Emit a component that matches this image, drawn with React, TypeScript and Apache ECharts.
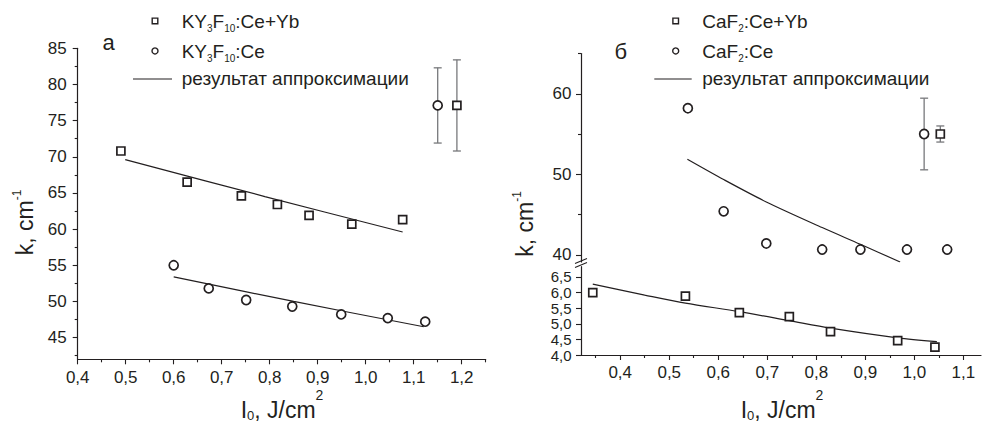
import React, { useEffect, useRef } from 'react';
import * as echarts from 'echarts';

const INK = '#231f20';
const ERR = '#77787b';
const FONT = '"Liberation Sans", Arial, Helvetica, sans-serif';

// ---------- Panel "а": KY3F10 ----------
const kyYbX = [0.490, 0.628, 0.741, 0.816, 0.882, 0.971, 1.077, 1.190];
const kyYbY = [70.8, 66.5, 64.6, 63.4, 61.9, 60.7, 61.3, 77.1];
const kyCeX = [0.600, 0.673, 0.751, 0.847, 0.949, 1.046, 1.124, 1.150];
const kyCeY = [55.0, 51.8, 50.2, 49.3, 48.2, 47.7, 47.2, 77.1];
const kyErrX = [1.150, 1.190];
const kyErrY = [77.1, 77.1];
const kyErrD = [5.2, 6.3];
const kyYbFitX = [0.499, 0.790, 1.077];
const kyYbFitY = [69.6, 64.5, 59.6];
const kyCeFitX = [0.600, 0.850, 1.121];
const kyCeFitY = [53.4, 50.0, 46.5];

// ---------- Panel "б": CaF2 ----------
const cafCeX = [0.538, 0.611, 0.698, 0.812, 0.890, 0.985, 1.067, 1.020];
const cafCeY = [58.2, 45.4, 41.4, 40.65, 40.65, 40.65, 40.65, 55.0];
const cafYbHighX = [1.053];
const cafYbHighY = [55.0];
const cafYbX = [0.344, 0.533, 0.643, 0.745, 0.829, 0.966, 1.042];
const cafYbY = [6.0, 5.89, 5.36, 5.23, 4.75, 4.46, 4.25];
const cafErrX = [1.020, 1.053];
const cafErrY = [55.0, 55.0];
const cafErrD = [4.45, 1.0];
const cafCeFitX = [0.537, 0.611, 0.698, 0.812, 0.890, 0.971];
const cafCeFitY = [51.86, 49.34, 46.56, 43.38, 41.3, 39.1];
const cafYbFitX = [0.344, 0.450, 0.533, 0.643, 0.745, 0.829, 0.966, 1.046];
const cafYbFitY = [6.27, 5.92, 5.66, 5.39, 5.10, 4.86, 4.55, 4.43];

// ---------- Ticks ----------
const leftXTicks = [0.4, 0.5, 0.6, 0.7, 0.8, 0.9, 1.0, 1.1, 1.2];
const leftXMinor = [0.45, 0.55, 0.65, 0.75, 0.85, 0.95, 1.05, 1.15, 1.25];
const leftYTicks = [45, 50, 55, 60, 65, 70, 75, 80, 85];
const leftYMinor = [42.5, 47.5, 52.5, 57.5, 62.5, 67.5, 72.5, 77.5, 82.5];
const rightXTicks = [0.4, 0.5, 0.6, 0.7, 0.8, 0.9, 1.0, 1.1];
const rightXMinor = [0.35, 0.45, 0.55, 0.65, 0.75, 0.85, 0.95, 1.05];
const upperYTicks = [40, 50, 60];
const upperYMinor = [45, 55, 65];
const lowerYTicks = [4.0, 4.5, 5.0, 5.5, 6.0, 6.5];

// ---------- Texts ----------
const legendFit = 'результат аппроксимации';

const zip = (xs: number[], ys: number[]) => xs.map((x, i) => [x, ys[i]]);
const errData = (xs: number[], ys: number[], ds: number[]) =>
  xs.map((x, i) => [x, ys[i] - ds[i], ys[i] + ds[i]]);
const fmt1 = (v: number) => v.toFixed(1).replace('.', ',');
const fmt0 = (v: number) => String(Math.round(v));

let _ctx: CanvasRenderingContext2D | null = null;
function measure(t: string, size: number) {
  if (!_ctx) _ctx = document.createElement('canvas').getContext('2d');
  _ctx!.font = `${size}px ${FONT}`;
  return _ctx!.measureText(t).width;
}
type Part = { t: string; size: number; dy: number; gap?: number };
function seq(parts: Part[], x0: number, baseline: number, align: 'left' | 'center'): any[] {
  const widths = parts.map((p) => measure(p.t, p.size) + (p.gap ? p.gap * p.size : 0));
  const total = widths.reduce((a, b) => a + b, 0);
  let x = align === 'center' ? x0 - total / 2 : x0;
  return parts.map((p, i) => {
    const el = {
      type: 'text', x: x + (p.gap ? p.gap * p.size : 0), y: baseline + p.dy - 0.3465 * p.size, z: 10,
      style: { text: p.t, fill: INK, font: `${p.size}px ${FONT}`, align: 'left', verticalAlign: 'middle' },
    };
    x += widths[i];
    return el;
  });
}

function mainAxis(grid: number, min: number, max: number, ticks: number[], fmt: (v: number) => string, pos: string, margin: number, fontSize = 17, lineHeight?: number) {
  return {
    type: 'value', gridIndex: grid, min, max, position: pos,
    axisLine: { show: true, onZero: false, lineStyle: { color: INK, width: 1.2 } },
    axisTick: { show: true, length: 5, customValues: ticks, lineStyle: { color: INK, width: 1.1 } },
    axisLabel: {
      show: true, customValues: ticks, formatter: fmt, margin, fontSize, lineHeight,
      color: INK, fontFamily: FONT, showMinLabel: true, showMaxLabel: true, hideOverlap: false,
    },
    splitLine: { show: false },
  };
}
function minorAxis(grid: number, min: number, max: number, ticks: number[], pos: string) {
  return {
    type: 'value', gridIndex: grid, min, max, position: pos,
    axisLine: { show: false, onZero: false },
    axisTick: { show: true, length: 3, customValues: ticks, lineStyle: { color: INK, width: 1.1 } },
    axisLabel: { show: false },
    splitLine: { show: false },
  };
}

function scatter(name: string, data: number[][], symbol: string, size: number, xi: number, yi: number) {
  return {
    type: 'scatter', name, data, symbol, symbolSize: size, xAxisIndex: xi, yAxisIndex: yi, z: 5,
    itemStyle: { color: '#ffffff', borderColor: INK, borderWidth: 1.7, opacity: 1 },
  };
}
function fit(data: number[][], xi: number, yi: number) {
  return {
    type: 'line', data, xAxisIndex: xi, yAxisIndex: yi, symbol: 'none', smooth: 0.3, z: 3,
    lineStyle: { color: INK, width: 1.2 },
  };
}
function errBars(data: number[][], xi: number, yi: number) {
  return {
    type: 'custom', data, xAxisIndex: xi, yAxisIndex: yi, z: 2,
    encode: { x: 0, y: [1, 2] },
    renderItem: (_p: any, api: any) => {
      const x = api.value(0);
      const lo = api.coord([x, api.value(1)]);
      const hi = api.coord([x, api.value(2)]);
      const w = 4;
      const st = { stroke: ERR, lineWidth: 1.3 };
      return {
        type: 'group',
        children: [
          { type: 'line', shape: { x1: lo[0], y1: lo[1], x2: hi[0], y2: hi[1] }, style: st },
          { type: 'line', shape: { x1: lo[0] - w, y1: lo[1], x2: lo[0] + w, y2: lo[1] }, style: st },
          { type: 'line', shape: { x1: hi[0] - w, y1: hi[1], x2: hi[0] + w, y2: hi[1] }, style: st },
        ],
      };
    },
  };
}

const M = 19;
const S = 10;
const SUB = 4.5;
function legendBlock(mx: number, lx1: number, lx2: number, tx: number, l1: Part[], l2: Part[]) {
  return [
    { type: 'rect', z: 10, shape: { x: mx - 2.8, y: 18.1, width: 5.6, height: 5.6 }, style: { fill: '#fff', stroke: INK, lineWidth: 1.4 } },
    { type: 'circle', z: 10, shape: { cx: mx, cy: 50.9, r: 3 }, style: { fill: '#fff', stroke: INK, lineWidth: 1.4 } },
    { type: 'line', z: 10, shape: { x1: lx1, y1: 79, x2: lx2, y2: 79 }, style: { stroke: INK, lineWidth: 1.2 } },
    ...seq(l1, tx, 27.8, 'left'),
    ...seq(l2, tx, 57.6, 'left'),
    ...seq([{ t: legendFit, size: M, dy: 0 }], tx, 85.3, 'left'),
  ];
}

const kyYbParts: Part[] = [
  { t: 'KY', size: M, dy: 0 }, { t: '3', size: S, dy: SUB }, { t: 'F', size: M, dy: 0 },
  { t: '10', size: S, dy: SUB }, { t: ':Ce+Yb', size: M, dy: 0 },
];
const kyCeParts: Part[] = [
  { t: 'KY', size: M, dy: 0 }, { t: '3', size: S, dy: SUB }, { t: 'F', size: M, dy: 0 },
  { t: '10', size: S, dy: SUB }, { t: ':Ce', size: M, dy: 0 },
];
const cafYbParts: Part[] = [{ t: 'CaF', size: M, dy: 0 }, { t: '2', size: S, dy: SUB }, { t: ':Ce+Yb', size: M, dy: 0 }];
const cafCeParts: Part[] = [{ t: 'CaF', size: M, dy: 0 }, { t: '2', size: S, dy: SUB }, { t: ':Ce', size: M, dy: 0 }];
const xTitleParts: Part[] = [
  { t: 'I', size: 23, dy: 0 }, { t: '0', size: 13, dy: 2.5 }, { t: ',', size: 23, dy: 0 },
  { t: 'J/cm', size: 23, dy: 0, gap: 0.278 }, { t: '2', size: 14, dy: -17.5 },
];
const yTitleParts: Part[] = [
  { t: 'k,', size: 23, dy: 0 }, { t: 'cm', size: 23, dy: 0, gap: 0.278 }, { t: '-1', size: 12, dy: -12.6 },
];

export default function App() {
  const ref = useRef<HTMLDivElement>(null);
  useEffect(() => {
    if (!ref.current) return;
    const chart = echarts.init(ref.current, null, { renderer: 'svg' });
    const option: any = {
      animation: false,
      backgroundColor: '#ffffff',
      grid: [
        { left: 77.7, top: 48.3, width: 408, height: 311, containLabel: false, outerBoundsMode: 'none' },
        { left: 581, top: 53.5, width: 400, height: 208.5, containLabel: false, outerBoundsMode: 'none' },
        { left: 581, top: 266.7, width: 400, height: 88.3, containLabel: false, outerBoundsMode: 'none' },
      ],
      xAxis: [
        mainAxis(0, 0.4, 1.25, leftXTicks, fmt1, 'bottom', 10),
        minorAxis(0, 0.4, 1.25, leftXMinor, 'bottom'),
        { type: 'value', gridIndex: 1, min: 0.32, max: 1.136, show: false, splitLine: { show: false } },
        mainAxis(2, 0.32, 1.136, rightXTicks, fmt1, 'bottom', 9),
        minorAxis(2, 0.32, 1.136, rightXMinor, 'bottom'),
      ],
      yAxis: [
        mainAxis(0, 42, 85, leftYTicks, fmt0, 'left', 11),
        minorAxis(0, 42, 85, leftYMinor, 'left'),
        mainAxis(1, 39.1, 65, upperYTicks, fmt0, 'left', 9.5),
        minorAxis(1, 39.1, 65, upperYMinor, 'left'),
        mainAxis(2, 4, 6.83, lowerYTicks, fmt1, 'left', 9.5, 15, 15),
      ],
      series: [
        errBars(errData(kyErrX, kyErrY, kyErrD), 0, 0),
        fit(zip(kyYbFitX, kyYbFitY), 0, 0),
        fit(zip(kyCeFitX, kyCeFitY), 0, 0),
        scatter('KY3F10:Ce+Yb', zip(kyYbX, kyYbY), 'rect', 8, 0, 0),
        scatter('KY3F10:Ce', zip(kyCeX, kyCeY), 'circle', 9, 0, 0),

        errBars(errData(cafErrX, cafErrY, cafErrD), 2, 2),
        fit(zip(cafCeFitX, cafCeFitY), 2, 2),
        scatter('CaF2:Ce', zip(cafCeX, cafCeY), 'circle', 9, 2, 2),
        scatter('CaF2:Ce+Yb', zip(cafYbHighX, cafYbHighY), 'rect', 8, 2, 2),

        fit(zip(cafYbFitX, cafYbFitY), 3, 4),
        scatter('CaF2:Ce+Yb', zip(cafYbX, cafYbY), 'rect', 8, 3, 4),
      ],
      graphic: [
        ...legendBlock(155, 133, 172, 181.7, kyYbParts, kyCeParts),
        ...legendBlock(675.7, 654.3, 691.7, 702.3, cafYbParts, cafCeParts),
        { type: 'text', x: 108.7, y: 42.3, z: 10, style: { text: 'а', fill: INK, font: `22px ${FONT}`, align: 'center', verticalAlign: 'middle' } },
        { type: 'text', x: 620.8, y: 51.6, z: 10, style: { text: 'б', fill: INK, font: `22px ${FONT}`, align: 'center', verticalAlign: 'middle' } },
        ...seq(xTitleParts, 282, 417.5, 'center'),
        ...seq(xTitleParts, 782, 417.5, 'center'),
        { type: 'group', x: 33.3, y: 222.5, rotation: Math.PI / 2, children: seq(yTitleParts, 0, 0, 'center') },
        { type: 'group', x: 533.3, y: 224, rotation: Math.PI / 2, children: seq(yTitleParts, 0, 0, 'center') },
        { type: 'line', z: 10, shape: { x1: 575, y1: 263.5, x2: 587, y2: 258.5 }, style: { stroke: INK, lineWidth: 1.1 } },
        { type: 'line', z: 10, shape: { x1: 575, y1: 267.5, x2: 587, y2: 262.5 }, style: { stroke: INK, lineWidth: 1.1 } },
      ],
    };
    chart.setOption(option);
    return () => chart.dispose();
  }, []);
  return <div ref={ref} style={{ position: 'fixed', left: 0, top: 0, width: 982, height: 423, background: '#fff' }} />;
}
